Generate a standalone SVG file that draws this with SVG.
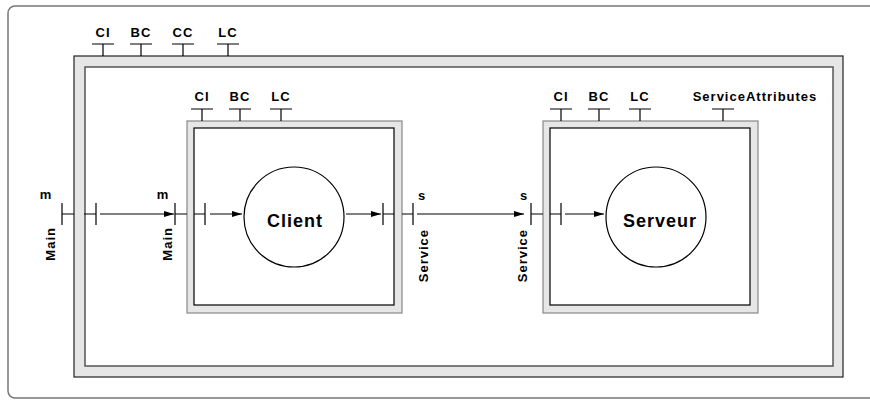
<svg xmlns="http://www.w3.org/2000/svg" width="870" height="403" viewBox="0 0 870 403">
<style>
  .lbl { font-family: "Liberation Sans", Arial, sans-serif; font-weight: bold; font-size: 13px; letter-spacing: 1px; fill: #000; }
  .big { font-family: "Liberation Sans", Arial, sans-serif; font-weight: bold; font-size: 18px; letter-spacing: 1px; fill: #000; }
  .port { stroke: #000; stroke-width: 1.2; fill: none; }
  .conn { stroke: #000; stroke-width: 1; fill: none; }
  .band { fill: #e6e6e6; }
  .circ { fill: #fff; stroke: #000; stroke-width: 1.2; }
</style>
<defs>
  <marker id="arr" viewBox="0 0 10 6" refX="10" refY="3" markerWidth="10" markerHeight="6" markerUnits="userSpaceOnUse" orient="auto">
    <path d="M0,0 L10,3 L0,6 Z" fill="#000"/>
  </marker>
</defs>
<rect x="8" y="6" width="880" height="392" rx="7" fill="#fff" stroke="#777" stroke-width="1.5"/>

<g id="main">
  <rect class="band" x="74" y="56" width="769" height="321" stroke="#222" stroke-width="1.2"/>
  <rect x="85" y="67" width="748" height="299" fill="#fff" stroke="#555" stroke-width="1.5"/>
  <g id="main-ports">
    <path class="port" d="M92,44 H114 M103,44 V56 M130,44 H152 M141,44 V56 M172,44 H194 M183,44 V56 M217,44 H239 M228,44 V56"/>
    <text class="lbl" x="103" y="37" text-anchor="middle">CI</text>
    <text class="lbl" x="141" y="37" text-anchor="middle">BC</text>
    <text class="lbl" x="183" y="37" text-anchor="middle">CC</text>
    <text class="lbl" x="228" y="37" text-anchor="middle">LC</text>
    <path class="port" d="M62,203 V225 M62,214 H74 M84,214 H96 M96,203 V225"/>
    <text class="lbl" x="46" y="199" text-anchor="middle">m</text>
    <text class="lbl" transform="translate(55,227) rotate(-90)" text-anchor="end">Main</text>
  </g>
</g>

<g id="client">
  <rect class="band" x="187" y="121" width="215" height="192" stroke="#888" stroke-width="1.2"/>
  <rect x="194" y="128" width="200" height="177" fill="#fff" stroke="#000" stroke-width="1.2"/>
  <path class="port" d="M191,109 H213 M202,109 V121 M229,109 H251 M240,109 V121 M270,109 H292 M281,109 V121"/>
  <text class="lbl" x="202" y="101" text-anchor="middle">CI</text>
  <text class="lbl" x="240" y="101" text-anchor="middle">BC</text>
  <text class="lbl" x="281" y="101" text-anchor="middle">LC</text>
  <path class="port" d="M175,203 V225 M175,214 H187 M194,214 H205 M205,203 V225"/>
  <text class="lbl" x="163" y="199" text-anchor="middle">m</text>
  <text class="lbl" transform="translate(172,227) rotate(-90)" text-anchor="end">Main</text>
  <path class="port" d="M383,203 V225 M383,214 H394 M402,214 H413 M413,203 V225"/>
  <text class="lbl" x="422" y="200" text-anchor="middle">s</text>
  <text class="lbl" transform="translate(428,229) rotate(-90)" text-anchor="end">Service</text>
  <g id="client-core">
    <circle class="circ" cx="294" cy="217" r="50"/>
    <text class="big" x="295" y="227" text-anchor="middle">Client</text>
  </g>
</g>

<g id="serveur">
  <rect class="band" x="543" y="121" width="215" height="192" stroke="#888" stroke-width="1.2"/>
  <rect x="550" y="128" width="200" height="177" fill="#fff" stroke="#000" stroke-width="1.2"/>
  <path class="port" d="M550,109 H572 M561,109 V121 M588,109 H610 M599,109 V121 M629,109 H651 M640,109 V121 M712,109 H734 M723,109 V121"/>
  <text class="lbl" x="561" y="101" text-anchor="middle">CI</text>
  <text class="lbl" x="599" y="101" text-anchor="middle">BC</text>
  <text class="lbl" x="640" y="101" text-anchor="middle">LC</text>
  <text class="lbl" x="755" y="101" text-anchor="middle">ServiceAttributes</text>
  <path class="port" d="M531,203 V225 M531,214 H543 M550,214 H561 M561,203 V225"/>
  <text class="lbl" x="524" y="200" text-anchor="middle">s</text>
  <text class="lbl" transform="translate(527,229) rotate(-90)" text-anchor="end">Service</text>
  <g id="serveur-core">
    <circle class="circ" cx="656" cy="217" r="50"/>
    <text class="big" x="660" y="227" text-anchor="middle">Serveur</text>
  </g>
</g>

<g id="connectors">
  <line class="conn" x1="100" y1="214" x2="174" y2="214" marker-end="url(#arr)"/>
  <line class="conn" x1="210" y1="214" x2="242" y2="214" marker-end="url(#arr)"/>
  <line class="conn" x1="346" y1="214" x2="381" y2="214" marker-end="url(#arr)"/>
  <line class="conn" x1="417" y1="214" x2="524" y2="214" marker-end="url(#arr)"/>
  <line class="conn" x1="565" y1="214" x2="604" y2="214" marker-end="url(#arr)"/>
</g>
</svg>
